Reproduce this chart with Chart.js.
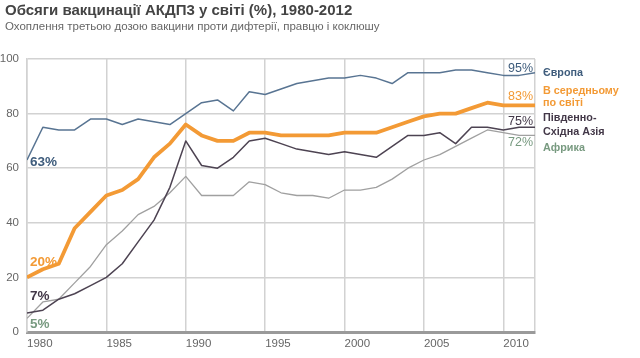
<!DOCTYPE html>
<html>
<head>
<meta charset="utf-8">
<script src="https://cdn.jsdelivr.net/npm/chart.js@4"></script>
<style>
html,body{margin:0;padding:0;background:#fff;}
#wrap{width:640px;height:358px;position:relative;}
</style>
</head>
<body>
<div id="wrap"><canvas id="c" width="640" height="358"></canvas></div>
<script>
const years = [1980,1981,1982,1983,1984,1985,1986,1987,1988,1989,1990,1991,1992,1993,1994,1995,1996,1997,1998,1999,2000,2001,2002,2003,2004,2005,2006,2007,2008,2009,2010,2011,2012];
const europe = [63,75,74,74,78,78,76,78,77,76,80,84,85,81,88,87,89,91,92,93,93,94,93,91,95,95,95,96,96,95,94,94,95];
const world  = [20,23,25,38,44,50,52,56,64,69,76,72,70,70,73,73,72,72,72,72,73,73,73,75,77,79,80,80,82,84,83,83,83];
const seAsia = [7,8,12,14,17,20,25,33,41,53,70,61,60,64,70,71,69,67,66,65,66,65,64,68,72,72,73,69,75,75,74,75,75];
const africa = [5,11,12,18,24,32,37,43,46,51,57,50,50,50,55,54,51,50,50,49,52,52,53,56,60,63,65,68,71,74,73,72,72];
const xTicks = [1980,1985,1990,1995,2000,2005,2010];
const yTicks = [0,20,40,60,80,100];

const titleText = "Обсяги вакцинації АКДП3 у світі (%), 1980-2012";
const subtitleText = "Охоплення третьою дозою вакцини проти дифтерії, правцю і коклюшу";

const FONT = '"Liberation Sans", Arial, Helvetica, sans-serif';
const C_EU = '#587492', C_EU_T = '#3e5c7c';
const C_W = '#f39a35';
const C_SEA = '#4d4352', C_SEA_T = '#433848';
const C_AF = '#a0a0a0', C_AF_T = '#789a80';

function pts(arr){ return arr.map((v,i)=>({x:years[i], y:v})); }

const series = [
  {key:'world', data:world, color:C_W, text:C_W, width:3.8, right:['В середньому','по світі']},
  {key:'eu', data:europe, color:C_EU, text:C_EU_T, width:1.5, right:['Європа']},
  {key:'sea', data:seAsia, color:C_SEA, text:C_SEA_T, width:1.5, right:['Південно-','Східна Азія']},
  {key:'af', data:africa, color:C_AF, text:C_AF_T, width:1.3, right:['Африка']}
];

const labelPlugin = {
  id:'labels',
  afterDraw(chart){
    const ctx = chart.ctx;
    const xs = chart.scales.x, ys = chart.scales.y;
    ctx.save();
    ctx.textBaseline = 'middle';
    // title
    ctx.fillStyle = '#444';
    ctx.textAlign = 'left';
    ctx.font = 'bold 15px ' + FONT;
    ctx.fillText(titleText, 5, 11);
    ctx.fillStyle = '#666';
    ctx.font = '11.5px ' + FONT;
    ctx.fillText(subtitleText, 5, 27);

    const lastX = xs.getPixelForValue(years[years.length-1]);
    const firstX = xs.getPixelForValue(years[0]);
    const cfg = {
      eu:  {pctDy:-4.5, name:[73.5]},
      world:{pctDy:-9, name:[91,103.5]},
      sea: {pctDy:-6, name:[118.5,132]},
      af:  {pctDy:7.5, name:[148]}
    };
    const leftDy = {eu:2, world:-15.5, sea:-17, af:5.5};
    series.forEach(s=>{
      const lv = s.data[s.data.length-1];
      const ly = ys.getPixelForValue(lv);
      ctx.fillStyle = s.text;
      ctx.textAlign = 'right';
      ctx.font = '12.5px ' + FONT;
      ctx.fillText(lv + '%', lastX - 2, ly + cfg[s.key].pctDy);
      ctx.textAlign = 'left';
      ctx.font = 'bold 10.8px ' + FONT;
      s.right.forEach((t,i)=>{ ctx.fillText(t, lastX + 8, cfg[s.key].name[i]); });
      const fv = s.data[0];
      const fy = ys.getPixelForValue(fv);
      ctx.font = 'bold 13.5px ' + FONT;
      ctx.fillText(fv + '%', firstX + 3, fy + leftDy[s.key]);
    });
    ctx.restore();
  }
};

new Chart(document.getElementById('c'), {
  type:'line',
  data:{
    datasets: series.map(s=>({
      label:s.key, data:pts(s.data), borderColor:s.color, borderWidth:s.width,
      pointRadius:0, tension:0, fill:false, borderJoinStyle:'round', borderCapStyle:'butt'
    }))
  },
  options:{
    responsive:false, animation:false,
    layout:{padding:{top:59, right:105, left:0, bottom:0}},
    plugins:{legend:{display:false}, tooltip:{enabled:false}, title:{display:false}},
    scales:{
      x:{
        type:'linear', min:1980, max:2012,
        afterBuildTicks(scale){ scale.ticks = xTicks.concat([2012]).map(v=>({value:v})); },
        afterFit(scale){ scale.height = 26; },
        ticks:{ autoSkip:false, maxRotation:0, align:'start', padding:5, color:'#666',
          font:{family:FONT, size:11.5},
          callback:(v)=> xTicks.includes(v) ? String(v) : '' },
        grid:{ color:'#d2d2d2', lineWidth:1.5, drawTicks:false },
        border:{ color:'#9a9a9a', width:3 }
      },
      y:{
        min:0, max:100,
        afterBuildTicks(scale){ scale.ticks = yTicks.map(v=>({value:v})); },
        afterFit(scale){ scale.width = 27; },
        ticks:{ padding:8, color:'#666', font:{family:FONT, size:11.5} },
        grid:{ color:'#d2d2d2', lineWidth:1.5, drawTicks:false },
        border:{ color:'#d2d2d2', width:1.5 }
      }
    }
  },
  plugins:[labelPlugin]
});
</script>
</body>
</html>
